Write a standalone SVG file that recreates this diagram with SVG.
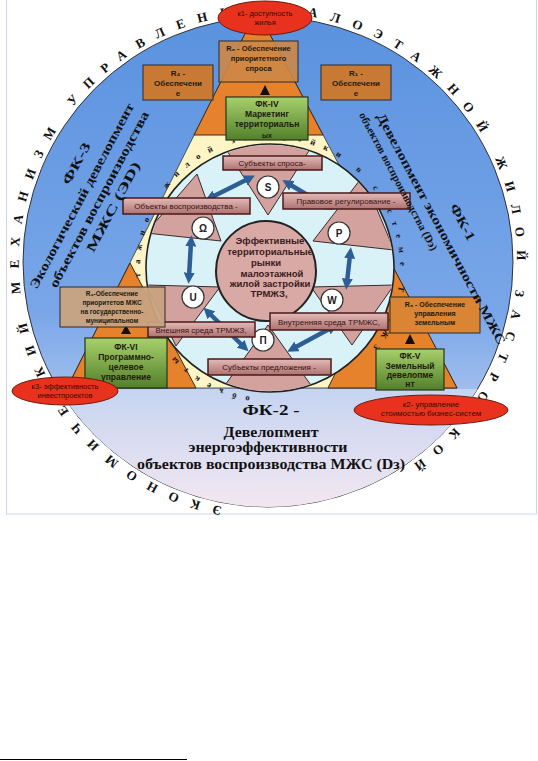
<svg xmlns="http://www.w3.org/2000/svg" width="538" height="761" viewBox="0 0 538 761">
<defs>
<linearGradient id="gBlue" x1="0" y1="17" x2="0" y2="507" gradientUnits="userSpaceOnUse">
<stop offset="0" stop-color="#5a92df"/>
<stop offset="0.6" stop-color="#79a6e8"/>
<stop offset="0.8" stop-color="#a9c3ef"/>
<stop offset="1" stop-color="#dcdcf2"/>
</linearGradient>
<linearGradient id="gLow" x1="0" y1="389" x2="0" y2="507" gradientUnits="userSpaceOnUse">
<stop offset="0" stop-color="#c5d4f1"/>
<stop offset="1" stop-color="#f3e7f1"/>
</linearGradient>
<linearGradient id="gGreen" x1="0" y1="0" x2="0" y2="1">
<stop offset="0" stop-color="#a8d06c"/>
<stop offset="1" stop-color="#52802a"/>
</linearGradient>
<linearGradient id="gLab" x1="0" y1="0" x2="0" y2="1">
<stop offset="0" stop-color="#e4bab8"/>
<stop offset="1" stop-color="#ad7270"/>
</linearGradient>
<clipPath id="cIn"><circle cx="270" cy="268" r="123"/></clipPath>
<clipPath id="cMid"><circle cx="266" cy="271" r="49"/></clipPath>
<marker id="ah" viewBox="0 0 10 10" refX="3" refY="5" markerWidth="11" markerHeight="11" markerUnits="userSpaceOnUse" orient="auto-start-reverse"><path d="M0,0 L10,5 L0,10 z" fill="#2e5e96"/></marker>
<path id="ring" d="M268 511 A249 249 0 1 1 268 13 A249 249 0 1 1 268 511"/>
<path id="ring2" d="M270 398 A130 130 0 1 1 270 138 A130 130 0 1 1 270 398"/>
</defs>
<style>
.lab rect{fill:url(#gLab);stroke:#4a1a1a;stroke-width:1.5}
.lab text{font-family:"Liberation Sans",Arial,sans-serif;font-size:8px;fill:#3a1212;text-anchor:middle}
.rb{stroke:#2b2b2b;stroke-width:1}
.gb{fill:url(#gGreen);stroke:#26361a;stroke-width:1.2}
.bt{font-family:"Liberation Sans",Arial,sans-serif;font-weight:bold;fill:#1e1a10;text-anchor:middle}
.ell{fill:#e8321d;stroke:#6e1a0e;stroke-width:1}
.et{font-family:"Liberation Sans",Arial,sans-serif;fill:#3a0a04;text-anchor:middle}
.big{font-family:"Liberation Serif","Times New Roman",serif;font-weight:bold;fill:#111;text-anchor:middle}
.pink{fill:#d4a29e;stroke:#3a2a2a;stroke-width:1}
.badge circle{fill:#fff;stroke:#333;stroke-width:1.2}
.badge text{font-family:"Liberation Sans",Arial,sans-serif;font-weight:bold;font-size:10px;fill:#222;text-anchor:middle}
.orange{fill:#e5822b;stroke:#3a2a1a;stroke-width:1}
.ringt{font-family:"Liberation Serif","Times New Roman",serif;font-weight:bold;font-size:13px;fill:#111;letter-spacing:13px}
.ring2t{font-family:"Liberation Serif","Times New Roman",serif;font-weight:bold;font-size:8.5px;fill:#111;letter-spacing:9px}
.ar{stroke:#2e5e96;stroke-width:4.5;fill:none;marker-start:url(#ah);marker-end:url(#ah)}
</style>

<rect x="6.5" y="-2" width="530" height="516" fill="none" stroke="#cdd6e6"/>

<g id="outer-circle">
<circle cx="268" cy="262" r="245" fill="url(#gBlue)" stroke="#333" stroke-width="1"/>
<path d="M58.5 389 L477.5 389 A245 245 0 0 1 58.5 389 Z" fill="url(#gLow)"/>
</g>

<g id="ring-text">
<text class="ringt"><textPath href="#ring" startOffset="46">ЭКОНОМИЧЕСКИЙ МЕХАНИЗМ УПРАВЛЕНИЯ МАЛОЭТАЖНОЙ ЖИЛОЙ ЗАСТРОЙКОЙ</textPath></text>
</g>

<g id="triangle">
<polygon points="257,10 67,388 457,388" fill="#fdf5c6" stroke="#333" stroke-width="0.8"/>
<polygon class="orange" points="257,10 194,135 323,135"/>
<polygon class="orange" points="67,388 196,388 130,263"/>
<polygon class="orange" points="457,388 328,388 391,263"/>
</g>

<g id="inner-circle">
<circle cx="270" cy="268" r="124" fill="#d8f2f8" stroke="#222" stroke-width="1.6"/>
<g clip-path="url(#cIn)">
<polygon class="pink" points="222,143 314,143 268,215"/>
<polygon class="pink" points="197,174 146,233 221,241"/>
<polygon class="pink" points="363,176 313,241 394,250"/>
<polygon class="pink" points="311,287 394,285 352,345"/>
<polygon class="pink" points="146,285 220,287 176,346"/>
<polygon class="pink" points="268,325 218,395 318,395"/>
</g>
</g>

<g id="inner-ring-text">
<text class="ring2t"><textPath href="#ring2" startOffset="20">объекты малоэтажной жилой застройки в системе ТРМЖЗ</textPath></text>
</g>

<g id="connectors">
<line class="ar" x1="212" y1="197" x2="248" y2="179"/>
<line class="ar" x1="289" y1="184" x2="326" y2="206"/>
<line class="ar" x1="191" y1="243" x2="189" y2="276"/>
<line class="ar" x1="350" y1="255" x2="347" y2="282"/>
<line class="ar" x1="209" y1="313" x2="243" y2="346"/>
<line class="ar" x1="331" y1="328" x2="294" y2="348"/>
<polygon points="265,85 260,95 270,95" fill="#111"/>
<polygon points="126,325 121,334 131,334" fill="#111"/>
<polygon points="410,334 405,344 415,344" fill="#111"/>
</g>

<g id="center">
<circle cx="266" cy="271" r="50" fill="#d8a9a5" stroke="#222" stroke-width="2"/>
<g clip-path="url(#cMid)" font-family="Liberation Sans, Arial, sans-serif" font-weight="bold" font-size="9.5" fill="#3a2020" text-anchor="middle">
<text x="270" y="244">Эффективные</text>
<text x="270" y="255">территориальные</text>
<text x="266" y="265.5">рынки</text>
<text x="272" y="276.5">малоэтажной</text>
<text x="270" y="287">жилой застройки</text>
<text x="269" y="297">ТРМЖЗ,</text>
</g>
</g>

<g id="badges">
<g class="badge" id="b-s"><circle cx="268" cy="187" r="11"/><text x="268" y="191">S</text></g>
<g class="badge" id="b-o"><circle cx="203" cy="228" r="11"/><text x="203" y="232">Ω</text></g>
<g class="badge" id="b-p"><circle cx="339" cy="233" r="11"/><text x="339" y="237">P</text></g>
<g class="badge" id="b-w"><circle cx="332" cy="300" r="11"/><text x="332" y="304">W</text></g>
<g class="badge" id="b-u"><circle cx="193" cy="297" r="11"/><text x="193" y="301">U</text></g>
<g class="badge" id="b-n"><circle cx="263" cy="340" r="11"/><text x="263" y="344">П</text></g>
</g>

<g class="lab" id="lab-demand"><rect x="223" y="156" width="99" height="14"/><text x="272" y="166">Субъекты спроса-</text></g>
<g class="lab" id="lab-objects"><rect x="123" y="198" width="127" height="16"/><text x="186" y="209">Объекты воспроизводства -</text></g>
<g class="lab" id="lab-law"><rect x="283" y="193" width="127" height="16"/><text x="346" y="204">Правовое регулирование -</text></g>
<g class="lab" id="lab-ext"><rect x="148" y="322" width="107" height="15"/><text x="201" y="332.5">Внешняя среда ТРМЖЗ,</text></g>
<g class="lab" id="lab-int"><rect x="270" y="313" width="118" height="17"/><text x="329" y="324.5">Внутренняя среда ТРМЖС,</text></g>
<g class="lab" id="lab-supply"><rect x="208" y="359" width="123" height="16"/><text x="269" y="370">Субъекты предложения -</text></g>

<g id="r6"><rect class="rb" x="219" y="41" width="79" height="41" fill="#cd8747" fill-opacity="0.9"/>
<text class="bt" font-size="7.5" x="258.5" y="51">R₆ - Обеспечение</text>
<text class="bt" font-size="7.5" x="258.5" y="61">приоритетного</text>
<text class="bt" font-size="7.5" x="258.5" y="71">спроса</text></g>
<g id="r4a"><rect class="rb" x="143" y="65" width="70" height="35" fill="#c87a35"/>
<text class="bt" font-size="8" x="178" y="76">R₄ -</text>
<text class="bt" font-size="8" x="178" y="86">Обеспечени</text>
<text class="bt" font-size="8" x="178" y="96">е</text></g>
<g id="r1"><rect class="rb" x="321" y="65" width="70" height="35" fill="#c87a35"/>
<text class="bt" font-size="8" x="356" y="76">R₁ -</text>
<text class="bt" font-size="8" x="356" y="86">Обеспечени</text>
<text class="bt" font-size="8" x="356" y="96">е</text></g>
<g id="r4b"><rect class="rb" x="60" y="287" width="105" height="40" fill="#c9a27f" fill-opacity="0.95"/>
<text class="bt" font-size="6.5" x="112" y="296">R₄-Обеспечение</text>
<text class="bt" font-size="6.5" x="112" y="305">приоритетов МЖС</text>
<text class="bt" font-size="6.5" x="112" y="314">на государственно-</text>
<text class="bt" font-size="6.5" x="112" y="323">муниципальном</text></g>
<g id="r5"><rect class="rb" x="390" y="297" width="90" height="36" fill="#d98534"/>
<text class="bt" font-size="7" x="435" y="307">R₅ - Обеспечение</text>
<text class="bt" font-size="7" x="435" y="316">управления</text>
<text class="bt" font-size="7" x="435" y="325">земельным</text></g>

<g id="fk4"><rect class="gb" x="226" y="97" width="82" height="43"/>
<text class="bt" font-size="8.5" x="267" y="107">ФК-IV</text>
<text class="bt" font-size="8.5" x="267" y="117">Маркетинг</text>
<text class="bt" font-size="8.5" x="267" y="127">территориальн</text>
<text class="bt" font-size="7" x="267" y="138">ых</text></g>
<g id="fk6"><rect class="gb" x="85" y="338" width="82" height="50"/>
<text class="bt" font-size="8.5" x="126" y="350">ФК-VI</text>
<text class="bt" font-size="8.5" x="126" y="360">Программно-</text>
<text class="bt" font-size="8.5" x="126" y="370">целевое</text>
<text class="bt" font-size="8.5" x="126" y="380">управление</text></g>
<g id="fk5"><rect class="gb" x="376" y="349" width="68" height="41"/>
<text class="bt" font-size="8.5" x="410" y="359">ФК-V</text>
<text class="bt" font-size="8.5" x="410" y="369">Земельный</text>
<text class="bt" font-size="8.5" x="410" y="378">девелопме</text>
<text class="bt" font-size="8.5" x="410" y="387">нт</text></g>

<g id="k1"><ellipse class="ell" cx="265" cy="18" rx="47" ry="17"/>
<text class="et" font-size="7.5" x="265" y="16">к1- доступность</text>
<text class="et" font-size="7.5" x="265" y="25">жилья</text></g>
<g id="k2"><ellipse class="ell" cx="431" cy="410" rx="77" ry="15"/>
<text class="et" font-size="8" x="431" y="407">к2- управление</text>
<text class="et" font-size="8" x="431" y="416">стоимостью бизнес-систем</text></g>
<g id="k3"><ellipse class="ell" cx="65" cy="391" rx="53" ry="14"/>
<text class="et" font-size="7.5" x="65" y="389">к3- эффективность</text>
<text class="et" font-size="7.5" x="65" y="398">инвестпроектов</text></g>

<g id="fk3" transform="translate(82,196) rotate(-62)">
<text class="big" font-size="13" x="26" y="-16" textLength="46" lengthAdjust="spacingAndGlyphs">ФК-3</text>
<text class="big" font-size="13" x="0" y="4" textLength="208" lengthAdjust="spacingAndGlyphs">Экологический девелопмент</text>
<text class="big" font-size="13" x="5" y="21" textLength="198" lengthAdjust="spacingAndGlyphs">объектов воспроизводства</text>
<text class="big" font-size="13" x="5" y="37" textLength="100" lengthAdjust="spacingAndGlyphs">МЖС (ЭD)</text>
</g>
<g id="fk1" transform="translate(441,229) rotate(62)">
<text class="big" font-size="13" x="4" y="-18" textLength="40" lengthAdjust="spacingAndGlyphs">ФК-1</text>
<text class="big" font-size="13" x="0" y="4" textLength="260" lengthAdjust="spacingAndGlyphs">Девелопмент экономичности МЖС</text>
<text class="big" font-size="11" x="-62" y="19" textLength="155" lengthAdjust="spacingAndGlyphs">объектов воспроизводства (Dэ)</text>
</g>
<g id="fk2">
<text class="big" font-size="15" x="271" y="415" textLength="57" lengthAdjust="spacingAndGlyphs">ФК-2  -</text>
<text class="big" font-size="15" x="271" y="437" textLength="95" lengthAdjust="spacingAndGlyphs">Девелопмент</text>
<text class="big" font-size="15" x="268" y="452" textLength="159" lengthAdjust="spacingAndGlyphs">энергоэффективности</text>
<text class="big" font-size="15" x="271" y="469" textLength="268" lengthAdjust="spacingAndGlyphs">объектов воспроизводства МЖС (Dз)</text>
</g>

<line x1="0" y1="759.5" x2="187" y2="759.5" stroke="#000" stroke-width="1"/>
</svg>
